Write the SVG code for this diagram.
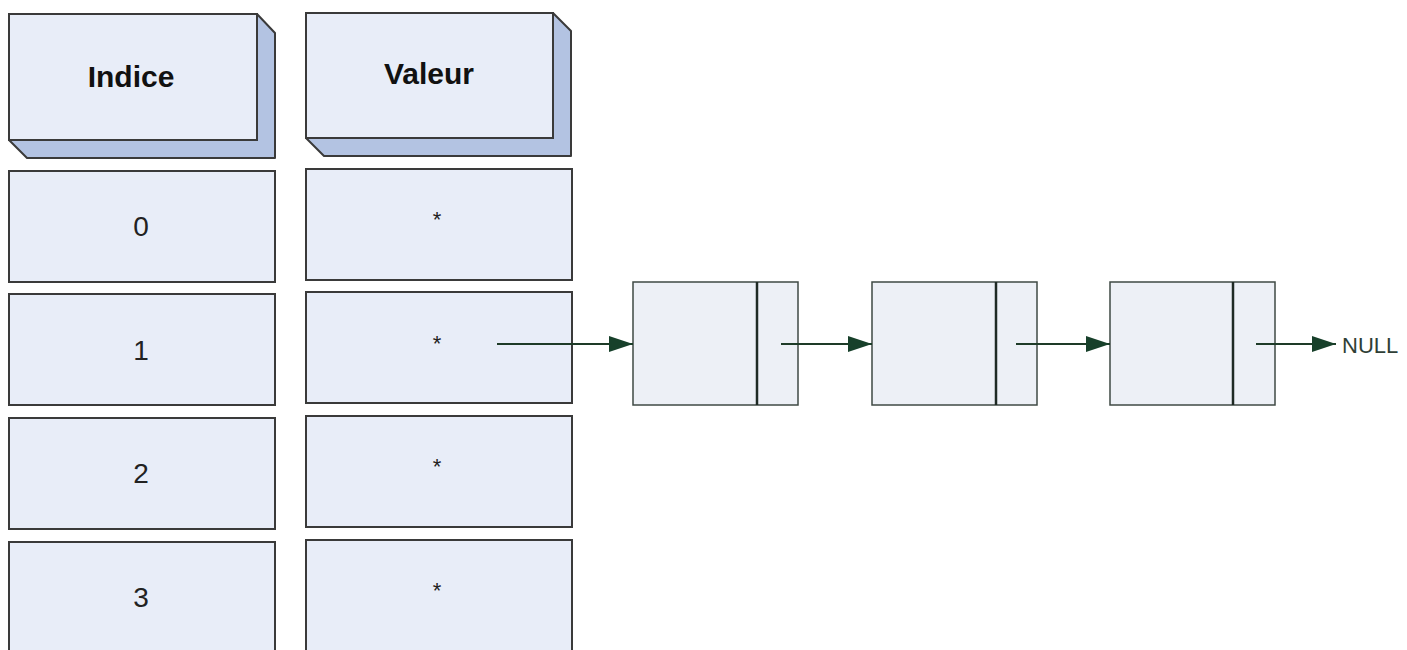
<svg xmlns="http://www.w3.org/2000/svg" width="1407" height="650" viewBox="0 0 1407 650">
<defs>
<style>
.box{fill:#e8edf8;stroke:#3a3a3a;stroke-width:2}
.bev{fill:#b3c3e2;stroke:#3a3a3a;stroke-width:2;stroke-linejoin:round}
.node{fill:#edf0f6;stroke:#3f4a44;stroke-width:1.5}
.div{stroke:#1f2a24;stroke-width:2.5}
.hd{font-family:"Liberation Sans",Arial,sans-serif;font-weight:bold;font-size:30px;fill:#111;text-anchor:middle}
.num{font-family:"Liberation Sans",Arial,sans-serif;font-size:28px;fill:#222;text-anchor:middle}
.ast{font-family:"Liberation Sans",Arial,sans-serif;font-size:22px;fill:#222;text-anchor:middle}
.con{stroke:#1e3b28;stroke-width:2;fill:none;marker-end:url(#ah)}
.null{font-family:"Liberation Sans",Arial,sans-serif;font-size:22px;fill:#2f3f36}
</style>
<marker id="ah" markerWidth="12" markerHeight="8" refX="12" refY="4" orient="auto" markerUnits="strokeWidth">
<path d="M0,0 L12,4 L0,8 Z" fill="#17402a"/>
</marker>
</defs>
<rect width="1407" height="650" fill="#ffffff"/>
<g id="hdr-indice">
<path class="bev" d="M257,14 L275,33 L275,158 L27,158 L9,140 L257,140 Z"/>
<rect class="box" x="9" y="14" width="248" height="126"/>
<text class="hd" x="131" y="87">Indice</text>
</g>
<g id="hdr-valeur">
<path class="bev" d="M553,13 L571,31 L571,156 L324,156 L306,138 L553,138 Z"/>
<rect class="box" x="306" y="13" width="247" height="125"/>
<text class="hd" x="429" y="84">Valeur</text>
</g>
<g id="idx0"><rect class="box" x="9" y="171" width="266" height="111"/><text class="num" x="141" y="236">0</text></g>
<g id="idx1"><rect class="box" x="9" y="294" width="266" height="111"/><text class="num" x="141" y="360">1</text></g>
<g id="idx2"><rect class="box" x="9" y="418" width="266" height="111"/><text class="num" x="141" y="483">2</text></g>
<g id="idx3"><rect class="box" x="9" y="542" width="266" height="115"/><text class="num" x="141" y="607">3</text></g>
<g id="val0"><rect class="box" x="306" y="169" width="266" height="111"/><text class="ast" x="437" y="227">*</text></g>
<g id="val1"><rect class="box" x="306" y="292" width="266" height="111"/><text class="ast" x="437" y="351">*</text></g>
<g id="val2"><rect class="box" x="306" y="416" width="266" height="111"/><text class="ast" x="437" y="474">*</text></g>
<g id="val3"><rect class="box" x="306" y="540" width="266" height="115"/><text class="ast" x="437" y="598">*</text></g>
<g id="node1"><rect class="node" x="633" y="282" width="165" height="123"/><line class="div" x1="757" y1="282" x2="757" y2="405"/></g>
<g id="node2"><rect class="node" x="872" y="282" width="165" height="123"/><line class="div" x1="996" y1="282" x2="996" y2="405"/></g>
<g id="node3"><rect class="node" x="1110" y="282" width="165" height="123"/><line class="div" x1="1233" y1="282" x2="1233" y2="405"/></g>
<g id="connectors">
<line class="con" x1="497" y1="344" x2="633" y2="344"/>
<line class="con" x1="781" y1="344" x2="872" y2="344"/>
<line class="con" x1="1016" y1="344" x2="1110" y2="344"/>
<line class="con" x1="1256" y1="344" x2="1336" y2="344"/>
</g>
<text class="null" x="1342" y="353">NULL</text>
</svg>
